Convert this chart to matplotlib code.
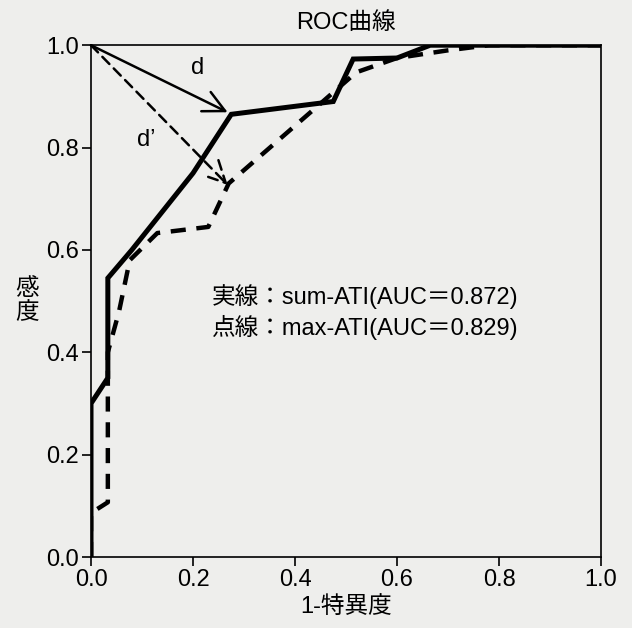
import matplotlib
matplotlib.use("Agg")
import matplotlib.pyplot as plt

plt.rcParams['font.family'] = ['Liberation Sans', 'Noto Sans CJK JP', 'DejaVu Sans']

# solid curve: sum-ATI
sum_fpr = [0.0, 0.0, 0.033, 0.033, 0.08, 0.20, 0.275, 0.475, 0.514, 0.60, 0.665, 1.0]
sum_tpr = [0.0, 0.30, 0.35, 0.545, 0.60, 0.75, 0.865, 0.89, 0.973, 0.975, 1.0, 1.0]

# dashed curve: max-ATI
max_fpr = [0.0, 0.0, 0.033, 0.033, 0.055, 0.076, 0.13, 0.23, 0.27, 0.435, 0.52, 0.60, 0.70, 0.78, 1.0]
max_tpr = [0.0, 0.086, 0.107, 0.40, 0.48, 0.58, 0.633, 0.645, 0.73, 0.873, 0.947, 0.975, 0.99, 1.0, 1.0]

title = 'ROC曲線'
xlabel = '1-特異度'
ylabel = '感\n度'
legend_lines = ['実線：sum-ATI(AUC＝0.872)', '点線：max-ATI(AUC＝0.829)']
ticks = [0.0, 0.2, 0.4, 0.6, 0.8, 1.0]

bg = '#eeeeec'
fs = 17
fig = plt.figure(figsize=(6.32, 6.28), dpi=100)
fig.patch.set_facecolor(bg)
ax = fig.add_axes([0.144, 0.113, 0.807, 0.815])
ax.set_facecolor(bg)

ax.plot(sum_fpr, sum_tpr, color='black', lw=3.6, solid_joinstyle='miter', zorder=4)
ax.plot(max_fpr, max_tpr, color='black', lw=3.2, ls=(0, (3.4, 2.4)), zorder=3)

# distance arrows d and d'
ax.annotate('', xy=(0.268, 0.869), xytext=(0.0, 1.0),
            arrowprops=dict(arrowstyle='->,head_length=0.7,head_width=0.35',
                            color='black', lw=1.8,
                            mutation_scale=22, shrinkA=0, shrinkB=0))
ax.annotate('', xy=(0.268, 0.727), xytext=(0.0, 1.0),
            arrowprops=dict(arrowstyle='->,head_length=0.7,head_width=0.35',
                            color='black', lw=1.8, ls=(0, (4, 2.5)),
                            mutation_scale=22, shrinkA=0, shrinkB=0))
ax.text(0.21, 0.955, 'd', fontsize=fs, ha='center', va='center')
ax.text(0.108, 0.815, 'd’', fontsize=fs, ha='center', va='center')

ax.text(0.237, 0.508, legend_lines[0], fontsize=fs, ha='left', va='center')
ax.text(0.237, 0.449, legend_lines[1], fontsize=fs, ha='left', va='center')

ax.set_xlim(0, 1)
ax.set_ylim(0, 1)
ax.set_xticks(ticks)
ax.set_yticks(ticks)
ax.set_xticklabels([f'{t:.1f}' for t in ticks])
ax.set_yticklabels([f'{t:.1f}' for t in ticks])
ax.tick_params(direction='out', length=6.5, width=1.2, labelsize=fs, pad=2)
for sp in ax.spines.values():
    sp.set_linewidth(1.2)

ax.set_title(title, fontsize=fs, pad=12)
ax.set_xlabel(xlabel, fontsize=fs, labelpad=4)
ax.set_ylabel(ylabel, fontsize=fs, rotation=0, va='center', labelpad=14,
              linespacing=1.1)

fig.savefig('out.png', dpi=100, facecolor=bg)
